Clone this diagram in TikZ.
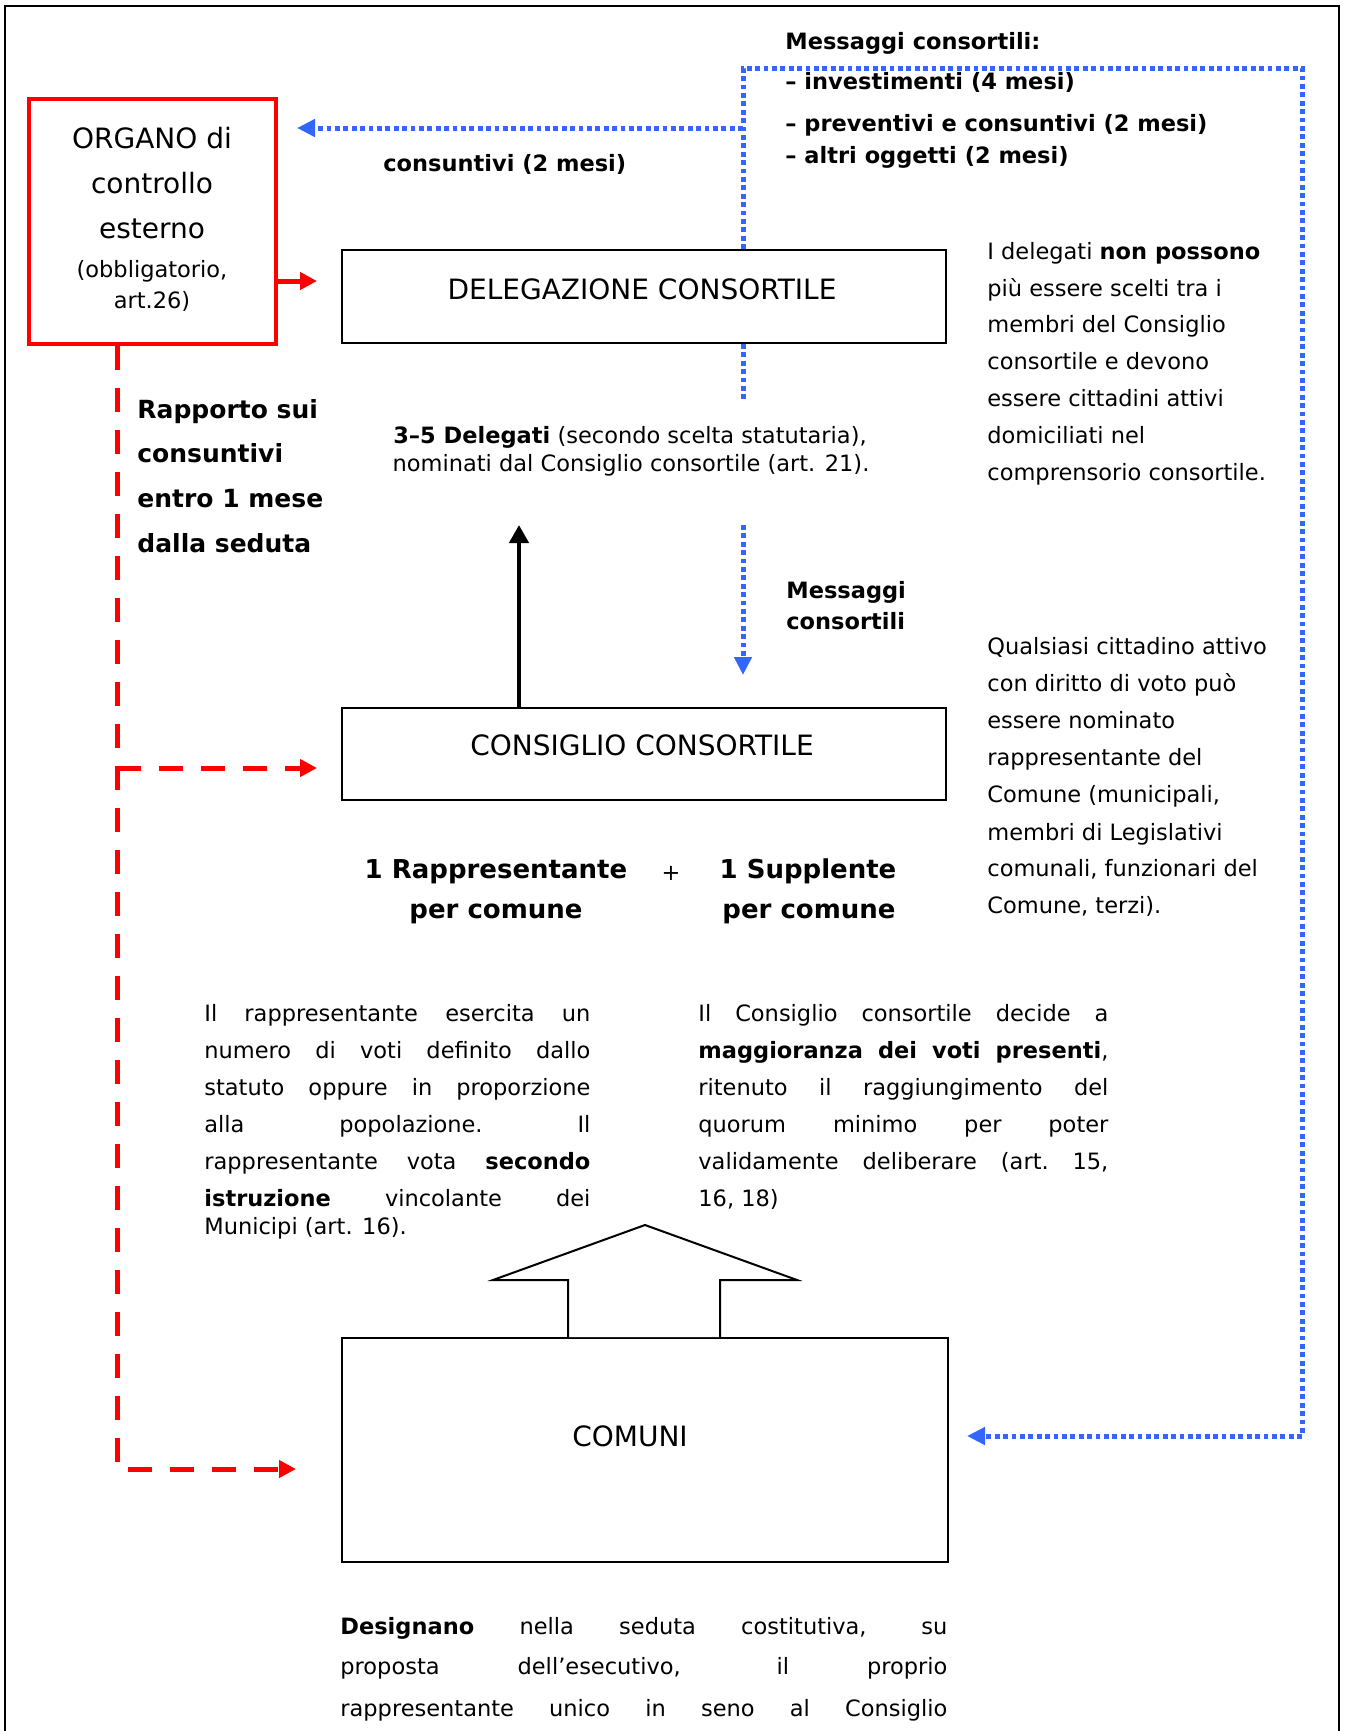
\documentclass[tikz,border=0pt]{standalone}
\usepackage{fontspec}
\setmainfont{DejaVu Sans}
\usetikzlibrary{arrows.meta}
\definecolor{msgblue}{RGB}{51,102,255}
\definecolor{ctrlred}{RGB}{255,0,0}
\newcommand\jline[2]{\hbox to #1{\spaceskip=0.318em plus 1fil\xspaceskip=\spaceskip\relax #2}}
\begin{document}
\begin{tikzpicture}[x=0.5pt,y=-0.5pt,
  sm/.style={inner sep=0pt,text height=8.5pt,text depth=1.7pt,font=\fontsize{11.25}{13}\selectfont},
  smb/.style={inner sep=0pt,text height=8.5pt,text depth=1.7pt,font=\fontsize{11.25}{13}\selectfont\bfseries},
  lg/.style={inner sep=0pt,text height=10.5pt,text depth=1.5pt,font=\fontsize{14}{16}\selectfont},
  lgb/.style={inner sep=0pt,text height=9.5pt,text depth=1.5pt,font=\fontsize{12.5}{15}\selectfont\bfseries},
  lgc/.style={inner sep=0pt,text height=9.8pt,text depth=1.5pt,font=\fontsize{13}{15}\selectfont\bfseries},
  blkbox/.style={draw=black,line width=1pt,fill=white,inner sep=0pt,anchor=north west},
  redbox/.style={draw=ctrlred,line width=2pt,fill=white,inner sep=0pt,anchor=north west},
  bdot/.style={draw=msgblue,line width=2.5pt,dash pattern=on 2.4pt off 1.8pt},
  btip/.style={-{Triangle[length=9pt,width=8.5pt]}},
  rsolid/.style={draw=ctrlred,line width=2.5pt},
  rdash/.style={draw=ctrlred,line width=2.5pt,dash pattern=on 12pt off 9pt},
  rtip/.style={-{Triangle[length=8.5pt,width=8.5pt]}},
  kline/.style={draw=black,line width=2.2pt},
  ktip/.style={-{Triangle[length=9pt,width=9.5pt]}},
]
\useasboundingbox (0,0) rectangle (1350,1731);
% outer frame (open at the bottom)
\draw[line width=0.8pt] (5,1740) -- (5,6) -- (1339,6) -- (1339,1740);

% ---- blue message lines
\coordinate (tl) at (743,68);
\coordinate (tr) at (1302,68);
\coordinate (br) at (1302,1436);
\coordinate (bj) at (743,128);
\coordinate (orgtip) at (297,128);
\coordinate (comtip) at (967,1436);
\coordinate (stubend) at (743,402);
\coordinate (msgstart) at (743,525);
\coordinate (msgend) at (743,675);

% ---- boxes
\node[redbox,minimum width=123.5pt,minimum height=122.5pt] (org) at (27,97) {};
\node[blkbox,minimum width=302pt,minimum height=46.5pt] (deleg) at (341,249) {};
\node[blkbox,minimum width=302pt,minimum height=46pt] (consig) at (341,707) {};
\node[blkbox,minimum width=303pt,minimum height=112pt] (comuni) at (341,1337) {};

\draw[bdot] (deleg.north -| tl) -- (tl) -- (tr) -- (br);
\draw[bdot,btip] (br) -- (comtip);
\draw[bdot,btip] (bj) -- (orgtip);
\draw[bdot] (deleg.south -| tl) -- (stubend);
\draw[bdot,btip] (msgstart) -- (msgend);

% ---- red control lines
\coordinate (rtop) at (117,342);
\coordinate (rcorner) at (117,1469);
\coordinate (rbranch) at (117,768);
\coordinate (rcomtip) at (296,1469);
\coordinate (rcontip) at (317,768);
\coordinate (rdeltip) at (317,281);
\draw[rsolid,rtip] (org.east |- rdeltip) -- (rdeltip);
\draw[rdash,rtip] (org.south -| rtop) -- (rcorner) -- (rcomtip);
\draw[rdash,rtip] (rbranch) -- (rcontip);

% ---- black arrow Consiglio -> Delegazione
\coordinate (ktipc) at (519,525);
\draw[kline,ktip] (consig.north -| ktipc) -- (ktipc);

% ---- block arrow Comuni -> Consiglio
\draw[line width=1pt,line join=miter,fill=white]
  (568,1337) -- (568,1280) -- (493,1280) -- (645,1225) -- (797,1280) -- (720,1280) -- (720,1337);

% ---- box titles
\node[lg] (tdeleg) at (642,290) {DELEGAZIONE CONSORTILE};
\node[lg] (tconsig) at (642,746) {CONSIGLIO CONSORTILE};
\node[lg] (tcomuni) at (630,1437) {COMUNI};

\node[lg] (org1) at (152,139) {ORGANO di};
\node[lg] (org2) at (152,184) {controllo};
\node[lg] (org3) at (152,229) {esterno};
\node[sm] (org4) at (152,271) {(obbligatorio,};
\node[sm] (org5) at (152,302) {art.26)};

% ---- top messages
\node[smb,anchor=west] (m0) at (785,43) {Messaggi consortili:};
\node[smb,anchor=west] (m1) at (785,83) {– investimenti (4 mesi)};
\node[smb,anchor=west] (m2) at (785,125) {– preventivi e consuntivi (2 mesi)};
\node[smb,anchor=west] (m3) at (785,157) {– altri oggetti (2 mesi)};
\node[smb,anchor=west] (cons) at (383,165) {consuntivi (2 mesi)};

% ---- delegates
\node[sm] (d1) at (630,437) {{\bfseries 3–5 Delegati} (secondo scelta statutaria),};
\node[sm] (d2) at (631,465) {nominati dal Consiglio consortile (art. 21).};

\node[smb,anchor=west] (mc1) at (786,592) {Messaggi};
\node[smb,anchor=west] (mc2) at (786,623) {consortili};

% ---- report
\node[lgb,anchor=west] (r1) at (137,410) {Rapporto sui};
\node[lgb,anchor=west] (r2) at (137,454) {consuntivi};
\node[lgb,anchor=west] (r3) at (137,499) {entro 1 mese};
\node[lgb,anchor=west] (r4) at (137,544) {dalla seduta};

% ---- right column notes
\node[sm,anchor=west] (n1) at (987,253) {I delegati {\bfseries non possono}};
\node[sm,anchor=west] (n2) at (987,290) {più essere scelti tra i};
\node[sm,anchor=west] (n3) at (987,326) {membri del Consiglio};
\node[sm,anchor=west] (n4) at (987,363) {consortile e devono};
\node[sm,anchor=west] (n5) at (987,400) {essere cittadini attivi};
\node[sm,anchor=west] (n6) at (987,437) {domiciliati nel};
\node[sm,anchor=west] (n7) at (987,474) {comprensorio consortile.};

\node[sm,anchor=west] (q1) at (987,648) {Qualsiasi cittadino attivo};
\node[sm,anchor=west] (q2) at (987,685) {con diritto di voto può};
\node[sm,anchor=west] (q3) at (987,722) {essere nominato};
\node[sm,anchor=west] (q4) at (987,759) {rappresentante del};
\node[sm,anchor=west] (q5) at (987,796) {Comune (municipali,};
\node[sm,anchor=west] (q6) at (987,834) {membri di Legislativi};
\node[sm,anchor=west] (q7) at (987,870) {comunali, funzionari del};
\node[sm,anchor=west] (q8) at (987,907) {Comune, terzi).};

% ---- representatives
\node[lgc] (rp1) at (496,870) {1 Rappresentante};
\node[lgc] (rp2) at (496,910) {per comune};
\node[sm] (plus) at (671,874) {+};
\node[lgc] (sp1) at (808,870) {1 Supplente};
\node[lgc] (sp2) at (809,910) {per comune};

% ---- paragraphs
\node[sm,anchor=west] (lp1) at (204,1015) {\jline{193pt}{Il rappresentante esercita un}};
\node[sm,anchor=west] (lp2) at (204,1052) {\jline{193pt}{numero di voti definito dallo}};
\node[sm,anchor=west] (lp3) at (204,1089) {\jline{193pt}{statuto oppure in proporzione}};
\node[sm,anchor=west] (lp4) at (204,1126) {\jline{193pt}{alla popolazione. Il}};
\node[sm,anchor=west] (lp5) at (204,1163) {\jline{193pt}{rappresentante vota {\bfseries secondo}}};
\node[sm,anchor=west] (lp6) at (204,1200) {\jline{193pt}{{\bfseries istruzione} vincolante dei}};
\node[sm,anchor=west] (lp7) at (204,1228) {Municipi (art. 16).};

\node[sm,anchor=west] (rq1) at (698,1015) {\jline{205pt}{Il Consiglio consortile decide a}};
\node[sm,anchor=west] (rq2) at (698,1052) {\jline{205pt}{{\bfseries maggioranza dei voti presenti},}};
\node[sm,anchor=west] (rq3) at (698,1089) {\jline{205pt}{ritenuto il raggiungimento del}};
\node[sm,anchor=west] (rq4) at (698,1126) {\jline{205pt}{quorum minimo per poter}};
\node[sm,anchor=west] (rq5) at (698,1163) {\jline{205pt}{validamente deliberare (art. 15,}};
\node[sm,anchor=west] (rq6) at (698,1200) {16, 18)};

\node[sm,anchor=west] (bp1) at (340,1628) {\jline{303.5pt}{{\bfseries Designano} nella seduta costitutiva, su}};
\node[sm,anchor=west] (bp2) at (340,1668) {\jline{303.5pt}{proposta dell’esecutivo, il proprio}};
\node[sm,anchor=west] (bp3) at (340,1710) {\jline{303.5pt}{rappresentante unico in seno al Consiglio}};
\end{tikzpicture}
\end{document}
